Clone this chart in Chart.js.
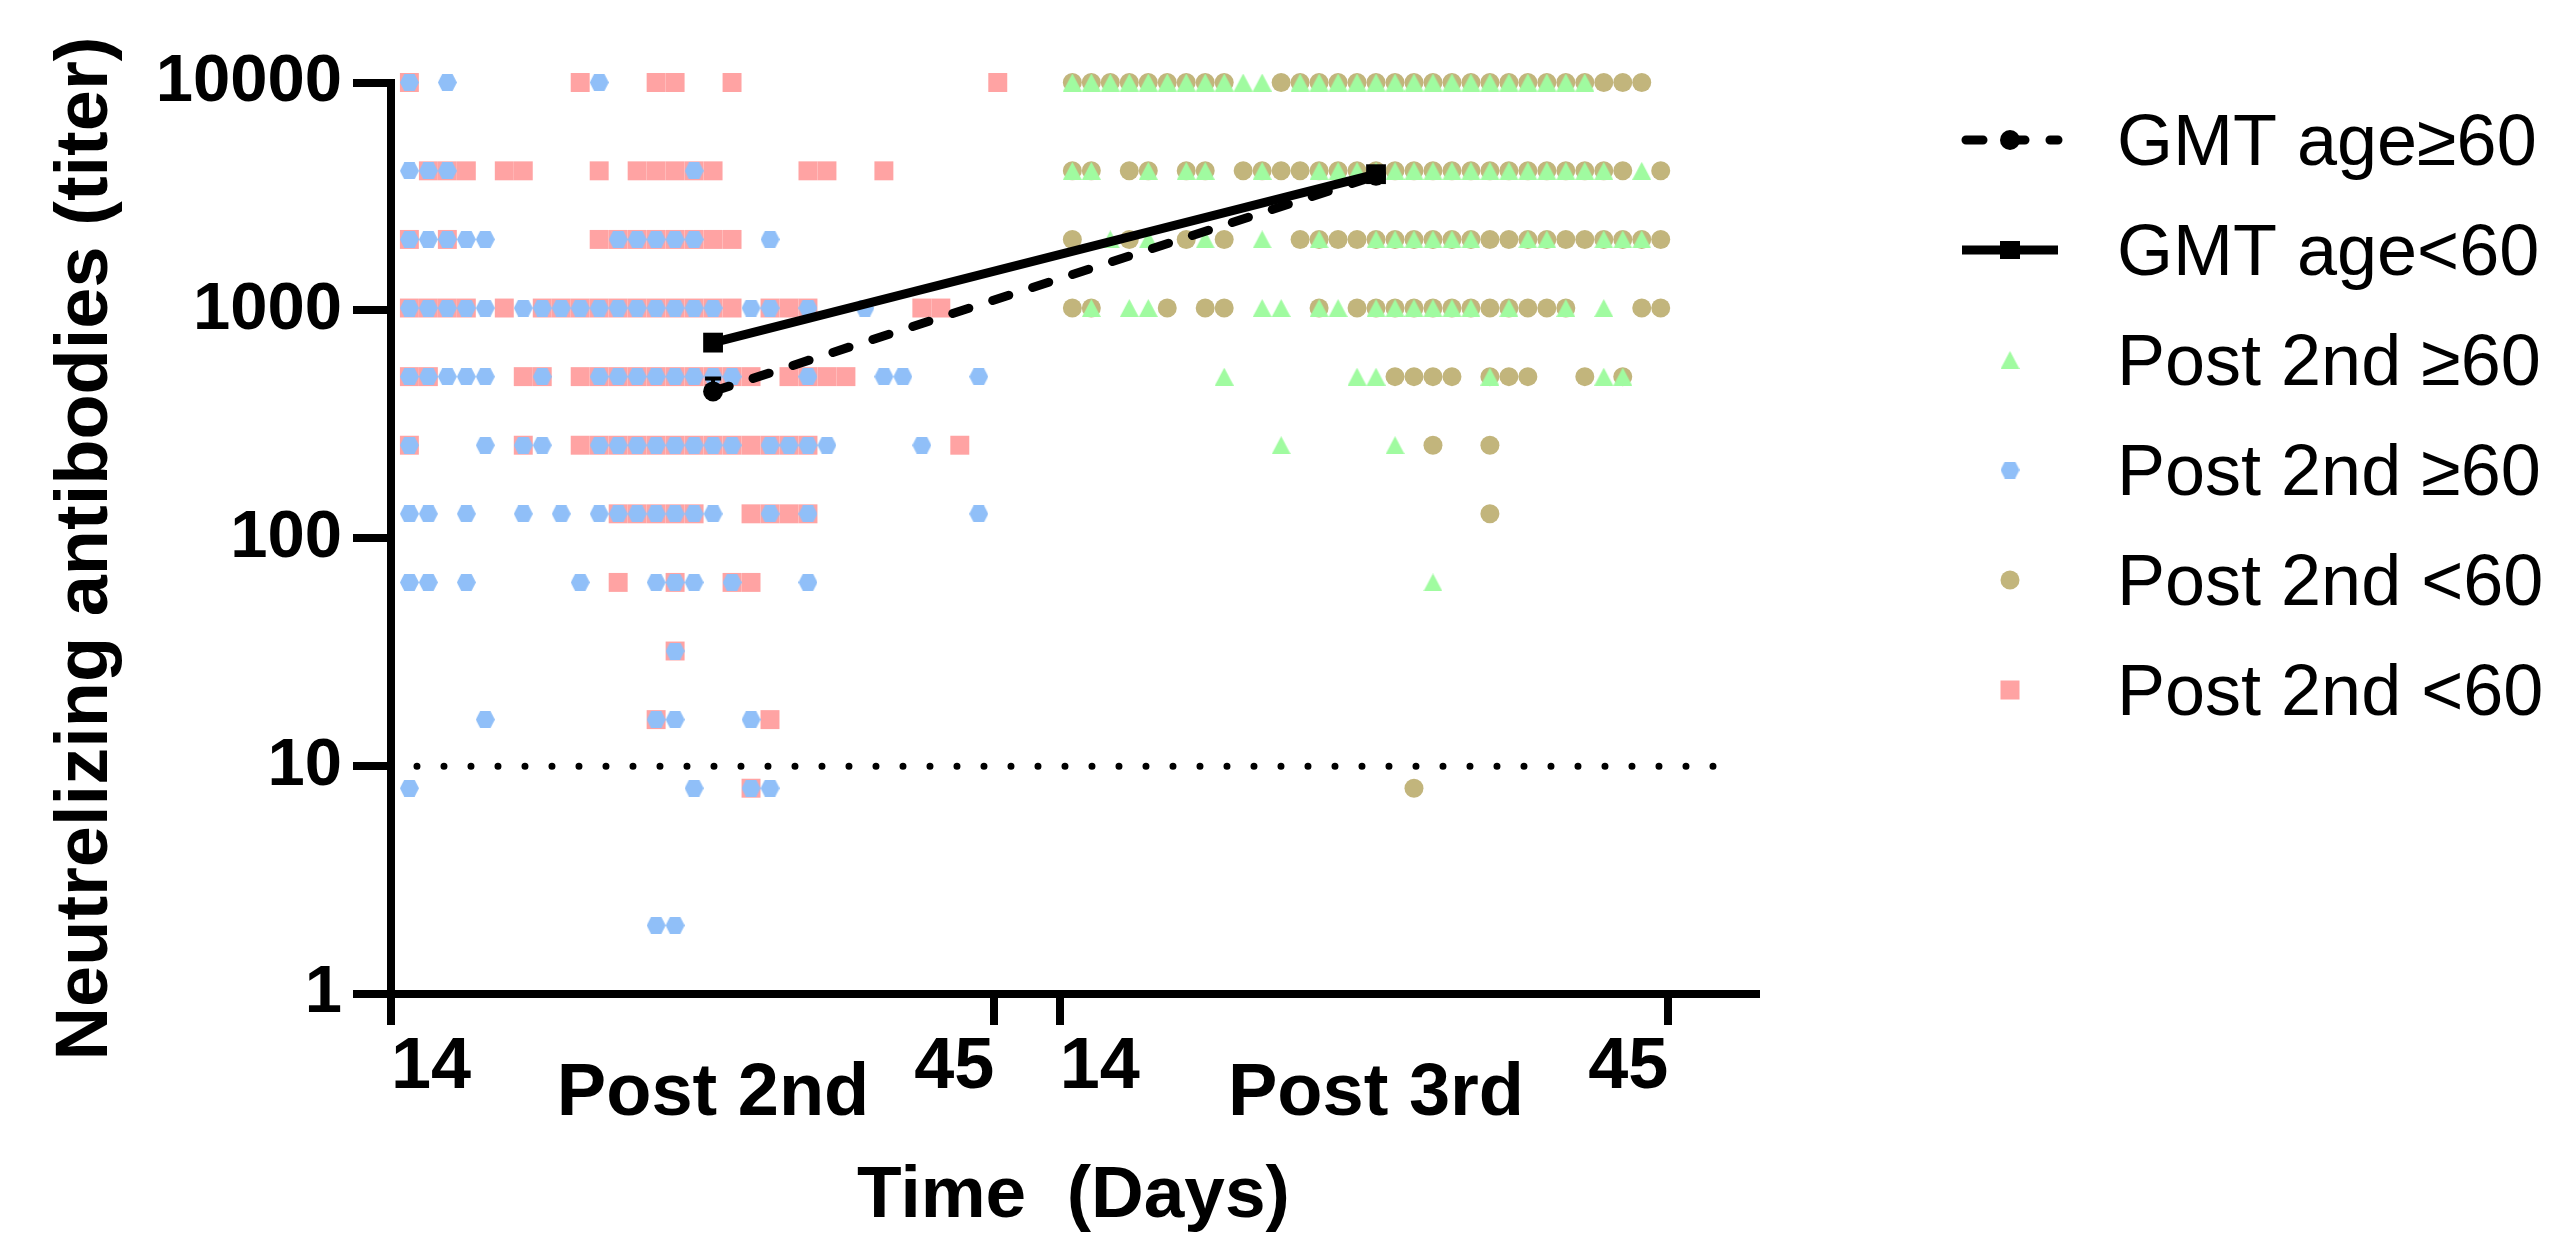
<!DOCTYPE html>
<html>
<head>
<meta charset="utf-8">
<title>Neutralizing antibodies</title>
<script src="https://cdn.jsdelivr.net/npm/chart.js@4.4.1/dist/chart.umd.min.js"></script>
<style>
  html, body { margin: 0; padding: 0; background: #fff; }
</style>
</head>
<body>
<canvas id="titerChart" width="2556" height="1244"></canvas>
<script>
// titer rows, top to bottom
const titers = [10000, 4096, 2048, 1024, 512, 256, 128, 64, 32, 16, 8, 2];

// column slots of each subject, one list per titer row (same order as titers)
// Post 2nd, <60 (pink squares)
const post2Under60 = [
  [0, 9, 13, 14, 17, 31],
  [1, 2, 3, 5, 6, 10, 12, 13, 14, 15, 16, 21, 22, 25],
  [0, 2, 10, 11, 12, 13, 14, 15, 16, 17],
  [0, 1, 2, 3, 5, 7, 8, 9, 10, 11, 12, 13, 14, 15, 16, 17, 19, 20, 21, 27, 28],
  [0, 1, 6, 7, 9, 10, 11, 12, 13, 14, 15, 16, 17, 18, 20, 21, 22, 23],
  [0, 6, 9, 10, 11, 12, 13, 14, 15, 16, 17, 18, 19, 20, 21, 29],
  [11, 12, 13, 14, 15, 18, 19, 20, 21],
  [11, 14, 17, 18],
  [14],
  [13, 19],
  [18],
  []
];
// Post 2nd, >=60 (blue hexagons)
const post2Over60 = [
  [0, 2, 10],
  [0, 1, 2, 15],
  [0, 1, 2, 3, 4, 11, 12, 13, 14, 15, 19],
  [0, 1, 2, 3, 4, 6, 7, 8, 9, 10, 11, 12, 13, 14, 15, 16, 18, 19, 21, 24],
  [0, 1, 2, 3, 4, 7, 10, 11, 12, 13, 14, 15, 16, 17, 21, 25, 26, 30],
  [0, 4, 6, 7, 10, 11, 12, 13, 14, 15, 16, 17, 19, 20, 21, 22, 27],
  [0, 1, 3, 6, 8, 10, 11, 12, 13, 14, 15, 16, 19, 21, 30],
  [0, 1, 3, 9, 13, 14, 15, 17, 21],
  [14],
  [4, 13, 14, 18],
  [0, 15, 18, 19],
  [13, 14]
];
// Post 3rd, <60 (olive circles)
const post3Under60 = [
  [0, 1, 2, 3, 4, 5, 6, 7, 8, 11, 12, 13, 14, 15, 16, 17, 18, 19, 20, 21, 22, 23, 24, 25, 26, 27, 28, 29, 30],
  [0, 1, 3, 4, 6, 7, 9, 10, 11, 12, 13, 14, 15, 16, 17, 18, 19, 20, 21, 22, 23, 24, 25, 26, 27, 28, 29, 31],
  [0, 3, 6, 8, 12, 13, 14, 15, 16, 17, 18, 19, 20, 21, 22, 23, 24, 25, 26, 27, 28, 29, 30, 31],
  [0, 1, 5, 7, 8, 13, 15, 16, 17, 18, 19, 20, 21, 22, 23, 24, 25, 26, 30, 31],
  [17, 18, 19, 20, 22, 23, 24, 27, 29],
  [19, 22],
  [22],
  [],
  [],
  [],
  [18],
  []
];
// Post 3rd, >=60 (green triangles)
const post3Over60 = [
  [0, 1, 2, 3, 4, 5, 6, 7, 8, 9, 10, 12, 13, 14, 15, 16, 17, 18, 19, 20, 21, 22, 23, 24, 25, 26, 27],
  [0, 1, 4, 6, 7, 10, 13, 14, 15, 16, 17, 18, 19, 20, 21, 22, 23, 24, 25, 26, 27, 28, 30],
  [2, 4, 7, 10, 13, 16, 17, 18, 19, 20, 21, 24, 25, 28, 29, 30],
  [1, 3, 4, 10, 11, 13, 14, 16, 17, 18, 19, 20, 21, 23, 26, 28],
  [8, 15, 16, 22, 28, 29],
  [11, 17],
  [],
  [19],
  [],
  [],
  [],
  []
];

// geometric mean titers
const phases = ["Post 2nd", "Post 3rd"];
const gmtSlot = 16;
const gmtOver60 = [441, 3900];
const gmtUnder60 = [722, 3960];
const gmtOver60Upper = [502, null];
const lodTiter = 10;

const xTickLabels = ["14", "45", "14", "45"];
const yTickValues = [1, 10, 100, 1000, 10000];
const legendLabels = ["GMT age\u226560", "GMT age<60", "Post 2nd \u226560", "Post 2nd \u226560", "Post 2nd <60", "Post 2nd <60"];

// layout of the broken time axis (in slot units)
const segStart = [0, 34.93];
const xTickPos = [-0.97, 30.82, 34.26, 66.33];

const FONT = '"Liberation Sans", Arial, Helvetica, sans-serif';
const PINK = "#FFA3A3", BLUE = "#90BFF8", OLIVE = "#C2B57C", GREEN = "#A0FBA0";

function toPoints(rows, seg) {
  const pts = [];
  rows.forEach((slots, r) => slots.forEach(s => pts.push({ x: segStart[seg] + s, y: titers[r] })));
  return pts;
}

function hexagon(color) {
  const c = document.createElement("canvas");
  c.width = 19; c.height = 17;
  const g = c.getContext("2d");
  g.fillStyle = color;
  g.beginPath();
  g.moveTo(0, 8.5); g.lineTo(4.3, 0); g.lineTo(14.7, 0);
  g.lineTo(19, 8.5); g.lineTo(14.7, 17); g.lineTo(4.3, 17);
  g.closePath();
  g.fill();
  return c;
}
function triangle(color) {
  const c = document.createElement("canvas");
  c.width = 19; c.height = 18;
  const g = c.getContext("2d");
  g.fillStyle = color;
  g.beginPath();
  g.moveTo(9.5, 0); g.lineTo(19, 18); g.lineTo(0, 18);
  g.closePath();
  g.fill();
  return c;
}
const hexImg = hexagon(BLUE);
const triImg = triangle(GREEN);

const gmtOldPts = phases.map((p, i) => ({ x: segStart[i] + gmtSlot, y: gmtOver60[i] }));
const gmtYoungPts = phases.map((p, i) => ({ x: segStart[i] + gmtSlot, y: gmtUnder60[i] }));

const extras = {
  id: "extras",
  afterDatasetsDraw(chart) {
    const { ctx, scales: { x, y } } = chart;
    ctx.save();
    ctx.strokeStyle = "#000";
    ctx.lineWidth = 4;
    gmtOver60Upper.forEach((v, i) => {
      if (v == null) return;
      const px = x.getPixelForValue(gmtOldPts[i].x);
      const py = y.getPixelForValue(v);
      ctx.beginPath();
      ctx.moveTo(px, y.getPixelForValue(gmtOver60[i]));
      ctx.lineTo(px, py);
      ctx.moveTo(px - 8, py);
      ctx.lineTo(px + 8, py);
      ctx.stroke();
    });
    ctx.restore();
  },
  afterDraw(chart) {
    const { ctx, scales: { x } } = chart;
    ctx.save();
    ctx.fillStyle = "#000";
    ctx.font = "bold 74px " + FONT;
    ctx.textAlign = "center";
    ctx.textBaseline = "alphabetic";
    phases.forEach((p, i) => ctx.fillText(p, x.getPixelForValue(segStart[i] + gmtSlot), 1115));

    // legend
    const lx = 2010, tx = 2117;
    legendLabels.forEach((label, i) => {
      const ly = 140 + i * 110;
      ctx.save();
      if (i === 0) {
        ctx.strokeStyle = "#000";
        ctx.lineWidth = 9;
        ctx.lineCap = "round";
        ctx.setLineDash([17, 25]);
        ctx.beginPath(); ctx.moveTo(1966, ly); ctx.lineTo(2058, ly); ctx.stroke();
        ctx.fillStyle = "#000";
        ctx.beginPath(); ctx.arc(lx, ly, 10, 0, Math.PI * 2); ctx.fill();
      } else if (i === 1) {
        ctx.strokeStyle = "#000";
        ctx.lineWidth = 9;
        ctx.beginPath(); ctx.moveTo(1962, ly); ctx.lineTo(2058, ly); ctx.stroke();
        ctx.fillStyle = "#000";
        ctx.fillRect(lx - 10, ly - 9, 20, 18);
      } else if (i === 2) {
        ctx.drawImage(triImg, lx - 9.5, ly - 9);
      } else if (i === 3) {
        ctx.drawImage(hexImg, lx - 9.5, ly - 8.5);
      } else if (i === 4) {
        ctx.fillStyle = OLIVE;
        ctx.beginPath(); ctx.arc(lx, ly, 9.5, 0, Math.PI * 2); ctx.fill();
      } else {
        ctx.fillStyle = PINK;
        ctx.fillRect(lx - 9.5, ly - 9.5, 19, 19);
      }
      ctx.restore();
      ctx.fillStyle = "#000";
      ctx.font = "72px " + FONT;
      ctx.textAlign = "left";
      ctx.fillText(label, tx, ly + 25);
    });
    ctx.restore();
  }
};

const config = {
  type: "scatter",
  data: {
    datasets: [
      {
        label: "LOD",
        data: [{ x: 0.4, y: lodTiter }, { x: 69.4, y: lodTiter }],
        showLine: true,
        borderColor: "#000",
        borderWidth: 7,
        borderDash: [0, 27],
        borderCapStyle: "round",
        pointRadius: 0,
        clip: false
      },
      {
        label: "GMT age<60",
        data: gmtYoungPts,
        showLine: true,
        borderColor: "#000",
        borderWidth: 9,
        pointStyle: "rect",
        pointRadius: 14,
        pointBackgroundColor: "#000",
        pointBorderWidth: 0,
        clip: false
      },
      {
        label: "GMT age\u226560",
        data: gmtOldPts,
        showLine: true,
        borderColor: "#000",
        borderWidth: 9,
        borderDash: [17, 25],
        borderCapStyle: "round",
        pointStyle: "circle",
        pointRadius: 10,
        pointBackgroundColor: "#000",
        pointBorderWidth: 0,
        clip: false
      },
      {
        label: "Post 2nd \u226560",
        data: toPoints(post2Over60, 0),
        pointStyle: hexImg,
        pointRadius: 9,
        clip: false
      },
      {
        label: "Post 2nd <60",
        data: toPoints(post2Under60, 0),
        pointStyle: "rect",
        pointRadius: 13.4,
        backgroundColor: PINK,
        borderWidth: 0,
        clip: false
      },
      {
        label: "Post 2nd \u226560",
        data: toPoints(post3Over60, 1),
        pointStyle: triImg,
        pointRadius: 9,
        clip: false
      },
      {
        label: "Post 2nd <60",
        data: toPoints(post3Under60, 1),
        pointStyle: "circle",
        pointRadius: 9.5,
        backgroundColor: OLIVE,
        borderWidth: 0,
        clip: false
      }
    ]
  },
  options: {
    responsive: false,
    animation: false,
    events: [],
    layout: { padding: { top: 82.5, right: 800, bottom: 0, left: 0 } },
    plugins: { legend: { display: false }, tooltip: { enabled: false } },
    scales: {
      x: {
        type: "linear",
        min: -0.969,
        max: 70.95,
        afterFit: scale => { scale.height = 250; },
        afterBuildTicks: scale => { scale.ticks = xTickPos.map(v => ({ value: v })); },
        ticks: {
          autoSkip: false,
          maxRotation: 0,
          minRotation: 0,
          padding: 0,
          color: "#000",
          font: { family: FONT, size: 72, weight: "bold" },
          callback: (value, index) => (index % 2 === 0 ? "\u2007\u2007" + xTickLabels[index] : xTickLabels[index] + "\u2007\u2007")
        },
        grid: { drawOnChartArea: false, drawTicks: true, tickLength: 31, tickWidth: 8, lineWidth: 8, tickColor: "#000", color: "#000" },
        border: { display: true, color: "#000", width: 8 },
        title: {
          display: true,
          text: "Time  (Days)",
          color: "#000",
          font: { family: FONT, size: 73, weight: "bold" },
          padding: { top: 0, bottom: 3 }
        }
      },
      y: {
        type: "logarithmic",
        min: 1,
        max: 10000,
        afterFit: scale => { scale.width = 391; },
        afterBuildTicks: scale => { scale.ticks = yTickValues.map(v => ({ value: v, major: true })); },
        ticks: {
          padding: 11,
          color: "#000",
          font: { family: FONT, size: 67, weight: "bold" },
          callback: value => String(value)
        },
        grid: { drawOnChartArea: false, drawTicks: true, tickLength: 38, tickWidth: 8, lineWidth: 8, tickColor: "#000", color: "#000" },
        border: { display: true, color: "#000", width: 8 },
        title: {
          display: true,
          text: "Neutrelizing antibodies (titer) ",
          color: "#000",
          font: { family: FONT, size: 74, weight: "bold" },
          padding: { top: 42, bottom: 0 }
        }
      }
    }
  },
  plugins: [extras]
};

var titerChart = new Chart(document.getElementById("titerChart"), config);
</script>
</body>
</html>
